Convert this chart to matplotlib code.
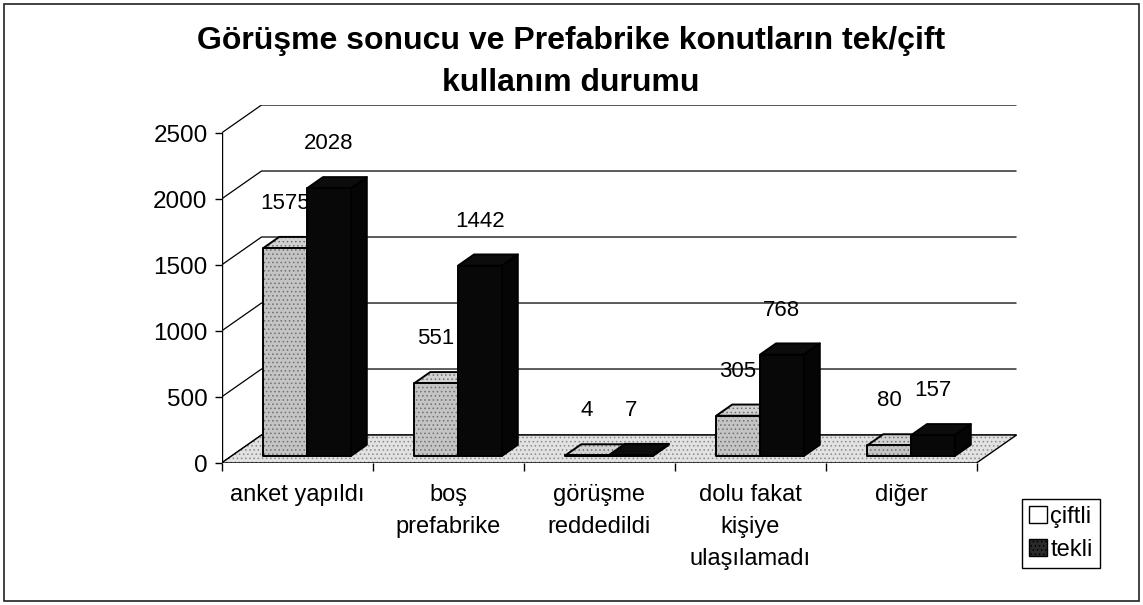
import matplotlib
matplotlib.use("Agg")
import matplotlib.pyplot as plt
from matplotlib.patches import Polygon, Rectangle, Patch

# ---- data ----
categories = ["anket yapıldı", "boş\nprefabrike", "görüşme\nreddedildi",
              "dolu fakat\nkişiye\nulaşılamadı", "diğer"]
ciftli = [1575, 551, 4, 305, 80]
tekli = [2028, 1442, 7, 768, 157]
series_names = ["çiftli", "tekli"]
yticks = [0, 500, 1000, 1500, 2000, 2500]
title_lines = ["Görüşme sonucu ve Prefabrike konutların tek/çift", "kullanım durumu"]

plt.rcParams['font.family'] = ['Liberation Sans', 'DejaVu Sans']
plt.rcParams['hatch.linewidth'] = 0.6

W, H = 1143, 605
fig = plt.figure(figsize=(W / 100, H / 100), dpi=100)
fig.patch.set_facecolor("white")

n = len(categories)
ymax = yticks[-1]
DX, DY = 0.265, 212          # depth of the 3-D floor in data units
PXC, PXV = 151.0, 0.132      # pixels per category / per value unit
left_px = 221.5
bottom_px = 463
right_px = left_px + (n + DX) * PXC
top_px = bottom_px - (ymax + DY) * PXV
ax = fig.add_axes([left_px / W, 1 - bottom_px / H,
                   (right_px - left_px) / W, (bottom_px - top_px) / H])
ax.set_xlim(0, n + DX)
ax.set_ylim(0, ymax + DY)
ax.patch.set_alpha(0)
for s in ax.spines.values():
    s.set_visible(False)

# back wall gridlines (with diagonal to the value axis)
for v in yticks:
    ax.plot([0, DX, n + DX], [v, v + DY, v + DY], color="black", lw=0.9, zorder=1,
            solid_capstyle="butt")
# value axis line
ax.plot([0, 0], [0, ymax], color="black", lw=1.0, zorder=3)

# floor
floor = [(0, 0), (n, 0), (n + DX, DY), (DX, DY)]
ax.add_patch(Polygon(floor, closed=True, facecolor="#e2e2e2", edgecolor="none", zorder=2))
ax.add_patch(Polygon(floor, closed=True, facecolor="none", edgecolor="#8a8a8a",
                     hatch="....", lw=0, zorder=2))
ax.add_patch(Polygon(floor, closed=True, facecolor="none", edgecolor="black", lw=1.0, zorder=2))

F0, F1 = 0.25, 0.65
BW = 0.29


def P(x, y, f):
    return (x + f * DX, y + f * DY)


def bar3d(xl, xr, v, faces, hatchcol, z):
    front = [P(xl, 0, F0), P(xr, 0, F0), P(xr, v, F0), P(xl, v, F0)]
    top = [P(xl, v, F0), P(xr, v, F0), P(xr, v, F1), P(xl, v, F1)]
    side = [P(xr, 0, F0), P(xr, 0, F1), P(xr, v, F1), P(xr, v, F0)]
    for pts, fc in zip([side, top, front], faces):
        ax.add_patch(Polygon(pts, closed=True, facecolor=fc, edgecolor="none", zorder=z))
        if hatchcol is not None:
            ax.add_patch(Polygon(pts, closed=True, facecolor="none", edgecolor=hatchcol,
                                 hatch="....", lw=0, zorder=z))
        ax.add_patch(Polygon(pts, closed=True, facecolor="none", edgecolor="black",
                             lw=1.4, joinstyle="round", zorder=z))


def label_xy(xc, v):
    return (xc + F0 * DX, v + F1 * DY)


for i in range(n):
    c = i + 0.5
    zc = 10 + i * 4
    bar3d(c - BW, c, ciftli[i], ["#b0b0b0", "#d2d2d2", "#c4c4c4"], "#707070", zc)
    ax.annotate(str(ciftli[i]), xy=label_xy(c - BW / 2, ciftli[i]), xytext=(0, 24),
                textcoords="offset points", ha="center", va="center", fontsize=16,
                zorder=zc + 1)
    bar3d(c, c + BW, tekli[i], ["#050505", "#0c0c0c", "#080808"], None, zc + 2)
    ax.annotate(str(tekli[i]), xy=label_xy(c + BW / 2, tekli[i]), xytext=(0, 24),
                textcoords="offset points", ha="center", va="center", fontsize=16,
                zorder=zc + 3)

# ticks
ax.set_yticks(yticks)
ax.set_yticklabels([str(t) for t in yticks])
ax.tick_params(axis="y", direction="out", length=5, width=1, labelsize=17.5, pad=5)
ax.set_xticks([i + 0.5 for i in range(n)])
ax.set_xticklabels(categories, linespacing=1.6)
ax.set_xticks(range(n + 1), minor=True)
ax.tick_params(axis="x", which="major", length=0, labelsize=17, pad=15)
ax.tick_params(axis="x", which="minor", length=6, width=1, direction="out")

# title
fig.text(571 / W, 1 - 41 / H, title_lines[0], ha="center", va="center",
         fontsize=23, fontweight="bold")
fig.text(571 / W, 1 - 83 / H, title_lines[1], ha="center", va="center",
         fontsize=23, fontweight="bold")

# legend
handles = [Patch(facecolor="white", edgecolor="black"),
           Patch(facecolor="#2a2a2a", edgecolor="black", hatch="....")]
leg = fig.legend(handles, series_names, loc="upper left",
                 bbox_to_anchor=(1022 / W, 1 - 499 / H), fontsize=17,
                 frameon=True, fancybox=False, edgecolor="black", framealpha=1,
                 handlelength=0.75, handleheight=0.75, handletextpad=0.15,
                 borderpad=0.3, labelspacing=0.45, borderaxespad=0)
leg.get_frame().set_linewidth(1.0)

# outer border
fig.add_artist(Rectangle((4 / W, 4 / H), (W - 8) / W, (H - 8) / H, transform=fig.transFigure,
                         fill=False, edgecolor="#222222", lw=1.2))

fig.savefig("out.png", dpi=100)
